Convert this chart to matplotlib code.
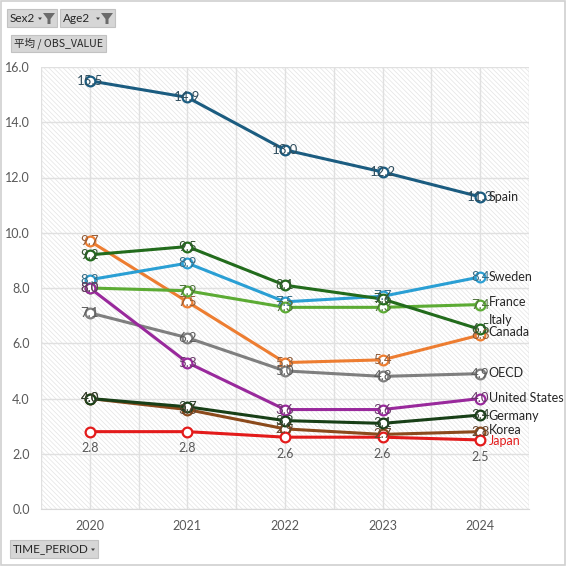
"""Average OBS_VALUE by TIME_PERIOD per country (pivot chart look-alike)."""

import matplotlib

matplotlib.use("Agg")
import matplotlib.pyplot as plt
from matplotlib.patches import Polygon, Rectangle

plt.rcParams["font.family"] = ["Lato", "DejaVu Sans"]
plt.rcParams["hatch.linewidth"] = 0.5

YEARS = ["2020", "2021", "2022", "2023", "2024"]

SPAIN = [15.5, 14.9, 13.0, 12.2, 11.3]
CANADA = [9.7, 7.5, 5.3, 5.4, 6.3]
ITALY = [9.2, 9.5, 8.1, 7.6, 6.5]
SWEDEN = [8.3, 8.9, 7.5, 7.7, 8.4]
FRANCE = [8.0, 7.9, 7.3, 7.3, 7.4]
UNITED_STATES = [8.0, 5.3, 3.6, 3.6, 4.0]
OECD = [7.1, 6.2, 5.0, 4.8, 4.9]
GERMANY = [4.0, 3.7, 3.2, 3.1, 3.4]
KOREA = [4.0, 3.6, 2.9, 2.7, 2.8]
JAPAN = [2.8, 2.8, 2.6, 2.6, 2.5]

# name, values, colour, label offset (points) for the end-of-line name
SERIES = [
    ("Spain", SPAIN, "#1b5c80", 0),
    ("Canada", CANADA, "#ed7d31", 2),
    ("Sweden", SWEDEN, "#2a9fd4", 0),
    ("France", FRANCE, "#5cab34", 1.5),
    ("OECD", OECD, "#7f7f7f", 0.5),
    ("United States", UNITED_STATES, "#99299c", 0),
    ("Korea", KOREA, "#8b4a1c", 1),
    ("Germany", GERMANY, "#183f17", -0.5),
    ("Italy", ITALY, "#226b1c", 6.5),
    ("Japan", JAPAN, "#e31b1b", -0.5),
]

W = H = 567


def fx(px):
    return px / W


def fy(py):
    return 1 - py / H


def mix(c1, c2, t):
    a = matplotlib.colors.to_rgb(c1)
    b = matplotlib.colors.to_rgb(c2)
    return tuple(a[i] * (1 - t) + b[i] * t for i in range(3))


fig = plt.figure(figsize=(W / 100, H / 100), dpi=100)
fig.patch.set_facecolor("white")
fig.add_artist(Rectangle((fx(1), fy(565)), fx(564), fy(1) - fy(565),
                         transform=fig.transFigure, fill=False, edgecolor="#d0d0d0", lw=1.2))

ax = fig.add_axes([fx(41), fy(509), fx(529) - fx(41), fy(67) - fy(509)])
ax.set_facecolor("white")
ax.add_patch(Rectangle((0, 0), 1, 1, transform=ax.transAxes, facecolor="white",
                       edgecolor="#e4e4e4", hatch="\\" * 7, lw=0, zorder=0))

x = list(range(len(YEARS)))
ax.set_xlim(-0.5, len(YEARS) - 0.5)
ax.set_ylim(0, 16)
ax.set_yticks([0, 2, 4, 6, 8, 10, 12, 14, 16])
ax.set_yticklabels([f"{v:.1f}" for v in ax.get_yticks()])
ax.set_xticks(x)
ax.set_xticklabels(YEARS)
ax.set_xticks([i + 0.5 for i in range(-1, len(YEARS))], minor=True)
ax.tick_params(axis="both", length=0, labelsize=9, labelcolor="#595959")
ax.tick_params(axis="x", pad=8)
ax.tick_params(axis="y", pad=8)
ax.tick_params(which="minor", length=0)
ax.grid(axis="y", color="#e0e0e0", lw=1, zorder=1)
ax.grid(axis="x", which="both", color="#e0e0e0", lw=1, zorder=1)
for side in ["top", "right", "left"]:
    ax.spines[side].set_visible(False)
ax.spines["bottom"].set_color("#d9d9d9")

for name, values, color, off in SERIES:
    ax.plot(x, values, color=color, lw=2.2, marker="o", ms=7, mfc="white",
            mec=color, mew=1.6, zorder=3, clip_on=False)
    txt_color = mix(color, "#404040", 0.55)
    for xi, v in zip(x, values):
        if name == "Japan":
            ax.annotate(f"{v:.1f}", (xi, v), xytext=(0, -12), textcoords="offset points",
                        ha="center", va="center", fontsize=9, color="#595959", zorder=4)
        else:
            ax.text(xi, v, f"{v:.1f}", ha="center", va="center", fontsize=9.5,
                    color=txt_color, zorder=4)
    ax.annotate(name, (x[-1], values[-1]), xytext=(6, off), textcoords="offset points",
                ha="left", va="center", fontsize=9,
                color=color if name == "Japan" else "#262626",
                annotation_clip=False, zorder=5)


def button(x0, y0, x1, y1, label, family=None, size=8.5, arrow=True, funnel=False):
    fig.add_artist(Rectangle((fx(x0), fy(y1)), fx(x1 - x0), fy(y0) - fy(y1),
                             transform=fig.transFigure, facecolor="#d6d6d6",
                             edgecolor="#c2c2c2", lw=0.8))
    fig.text(fx(x0 + 3), fy((y0 + y1) / 2), label, ha="left", va="center",
             fontsize=size, color="#262626", family=family or ["Lato", "DejaVu Sans"])
    right = x1
    if funnel:
        fig.add_artist(Polygon([(fx(x1 - 14), fy(y0 + 4)), (fx(x1 - 2), fy(y0 + 4)),
                                (fx(x1 - 6.5), fy(y0 + 10)), (fx(x1 - 6.5), fy(y1 - 3)),
                                (fx(x1 - 9.5), fy(y1 - 3)), (fx(x1 - 9.5), fy(y0 + 10))],
                               closed=True, transform=fig.transFigure,
                               facecolor="#6b6b6b", edgecolor="none"))
        right = x1 - 12
    if arrow:
        cy = (y0 + y1) / 2 + 1
        fig.add_artist(Polygon([(fx(right - 7), fy(cy - 1.5)), (fx(right - 3), fy(cy - 1.5)),
                                (fx(right - 5), fy(cy + 1))],
                               closed=True, transform=fig.transFigure,
                               facecolor="#404040", edgecolor="none"))


button(7, 9, 57, 27, "Sex2", funnel=True)
button(60, 9, 115, 27, "Age2", funnel=True)
button(11, 35, 106, 52, "平均 / OBS_VALUE", family=["Noto Sans CJK JP", "DejaVu Sans"],
       size=7.6, arrow=False)
button(10, 540, 98, 558, "TIME_PERIOD")

fig.savefig("out.png", dpi=100)
